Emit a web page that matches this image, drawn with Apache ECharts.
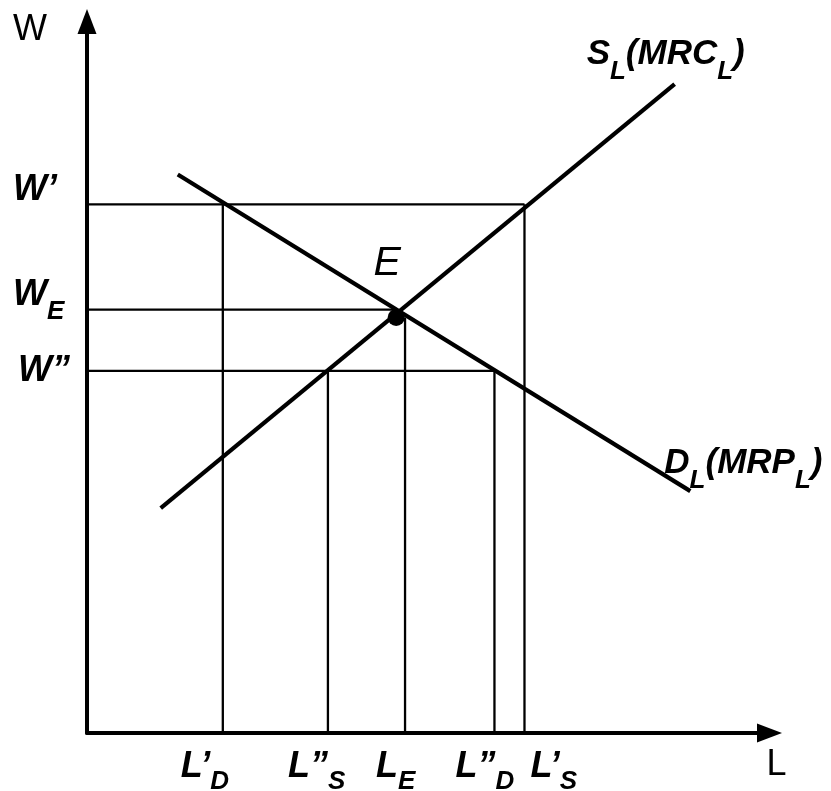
<!DOCTYPE html>
<html>
<head>
<meta charset="utf-8">
<script src="https://cdn.jsdelivr.net/npm/echarts@6/dist/echarts.min.js"></script>
<style>
html,body{margin:0;padding:0;background:#fff;}
#chart{width:831px;height:791px;}
</style>
</head>
<body>
<div id="chart"></div>
<script>
// ---- data ----
const xTickLabels = [["L’","D"],["L”","S"],["L","E"],["L”","D"],["L’","S"]];
const xTickValues = [19.9, 35.3, 46.6, 59.7, 64.1];          // L'D, L''S, LE, L''D, L'S
const yTickLabels = [["W’",""],["W","E"],["W”",""]];
const yTickValues = [74.3, 59.5, 50.9];                       // W', WE, W''
const supplyCurve = [[10.8, 31.6], [86.1, 91.2]];
const demandCurve = [[13.3, 78.5], [88.4, 34.0]];
const equilibrium = [45.3, 58.4];
const supplyName = [["S",""],["","L"],["(MRC",""],["","L"],[")",""]];
const demandName = [["D",""],["","L"],["(MRP",""],["","L"],[")",""]];

// ---- layout / style (not data) ----
const FONT = '"Liberation Sans", Arial, sans-serif';
const MAIN = 36, SUBSZ = 26;
const mainFont = 'italic bold ' + MAIN + 'px ' + FONT;
const curveFont = 'italic bold 35px ' + FONT;
const subFont = 'italic bold ' + SUBSZ + 'px ' + FONT;

const [LpD, LppS, LE, LppD, LpS] = xTickValues;
const [Wp, WE, Wpp] = yTickValues;
const guideSegments = [
  [[0, Wp], [LpS, Wp]],
  [[0, WE], [equilibrium[0], WE]],
  [[0, Wpp], [LppD, Wpp]],
  [[LpD, 0], [LpD, Wp]],
  [[LppS, 0], [LppS, Wpp]],
  [[LE, 0], [LE, equilibrium[1]]],
  [[LppD, 0], [LppD, Wpp]],
  [[LpS, 0], [LpS, Wp]]
];

const chart = echarts.init(document.getElementById('chart'), null, {renderer: 'canvas'});

const axisCommon = {
  type: 'value', min: 0, max: 100,
  splitLine: {show: false}, axisTick: {show: false}, axisLabel: {show: false},
  axisLine: {show: true, onZero: false, lineStyle: {color: '#000', width: 4},
    symbol: ['none', 'triangle'], symbolSize: [19, 25]}
};

const series = [];
guideSegments.forEach(seg => series.push({
  type: 'line', data: seg, symbol: 'none', silent: true, animation: false,
  lineStyle: {color: '#000', width: 2.3}, z: 2
}));
[supplyCurve, demandCurve].forEach(c => series.push({
  type: 'line', data: c, symbol: 'none', silent: true, animation: false,
  lineStyle: {color: '#000', width: 4.2}, z: 3
}));
series.push({
  type: 'scatter', data: [equilibrium], symbol: 'circle', symbolSize: 17,
  itemStyle: {color: '#000', opacity: 1}, silent: true, animation: false, z: 4
});

chart.setOption({
  animation: false,
  grid: {left: 87, right: 61.5, top: 21.5, bottom: 58},
  xAxis: axisCommon,
  yAxis: axisCommon,
  series: series
});

// text measurement
const cv = document.createElement('canvas').getContext('2d');
function w(t, f) { cv.font = f; return cv.measureText(t).width; }

const graphics = [];
function txt(t, x, y, f) {
  graphics.push({type: 'text', x: x, y: y, silent: true, z: 10,
    style: {text: t, font: f, fill: '#000', textAlign: 'left', align: 'left',
      textVerticalAlign: 'middle', verticalAlign: 'middle'}});
}
function pieces(parts, x, y, mf, subDy) {
  let cx = x;
  parts.forEach(([m, s]) => {
    if (m) { txt(m, cx, y, mf); cx += w(m, mf); }
    if (s) { txt(s, cx, y + subDy, subFont); cx += w(s, subFont); }
  });
}
const px = p => chart.convertToPixel({gridIndex: 0}, p);

// y tick labels
const yLeft = [13, 13, 18], yDy = [-14, -14.5, 0.5];
yTickValues.forEach((v, i) => {
  const p = px([0, v]);
  pieces([yTickLabels[i]], yLeft[i], p[1] + yDy[i], mainFont, 17);
});
// x tick labels
const xDx = [-42, -40, -29, -39, 6];
xTickValues.forEach((v, i) => {
  const p = px([v, 0]);
  pieces([xTickLabels[i]], p[0] + xDx[i], p[1] + 34, mainFont, 15);
});
// curve names
const sEnd = px(supplyCurve[1]);
pieces(supplyName, sEnd[0] - 88, sEnd[1] - 29.5, curveFont, 17);
const dEnd = px(demandCurve[1]);
pieces(demandName, dEnd[0] - 26, dEnd[1] - 27.5, curveFont, 17);
// equilibrium label
const eP = px(equilibrium);
graphics.push({type: 'text', x: eP[0] - 9, y: eP[1] - 54, silent: true, z: 10,
  style: {text: 'E', font: 'italic 41px ' + FONT, fill: '#000', textAlign: 'center', align: 'center',
    textVerticalAlign: 'middle', verticalAlign: 'middle'}});
// axis names
const origin = px([0, 0]);
txt('W', origin[0] - 74, 30, '36px ' + FONT);
const xEnd = px([100, 0]);
txt('L', xEnd[0] - 3, origin[1] + 32, '36px ' + FONT);

chart.setOption({graphic: graphics});
</script>
</body>
</html>
